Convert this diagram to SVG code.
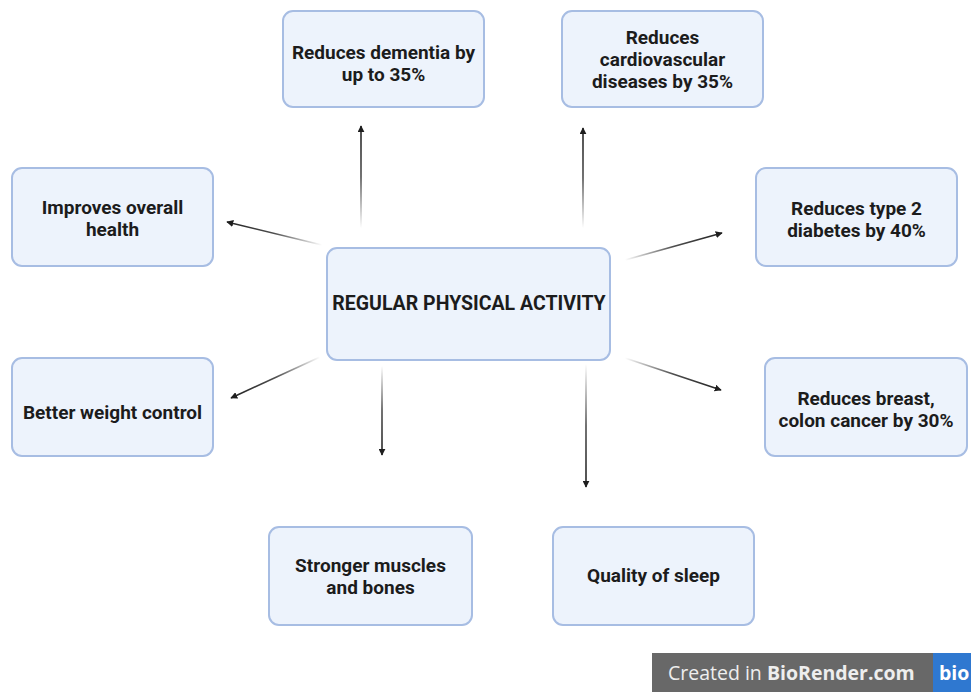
<svg xmlns="http://www.w3.org/2000/svg" width="971" height="692" viewBox="0 0 971 692">
<style>
.box{fill:#edf3fc;stroke:#a7bde3;stroke-width:2}
.t{font-family:Roboto,"Liberation Sans",sans-serif;font-weight:700;font-size:19px;fill:#1c1c1c;text-anchor:middle}
.c{stroke-width:1.6;fill:none}
</style>
<defs>
<marker id="ah" viewBox="0 0 10 10" refX="9" refY="5" markerWidth="7" markerHeight="7" markerUnits="userSpaceOnUse" orient="auto"><path d="M0,0 L10,5 L0,10 z" fill="#1e1e1e"/></marker>
<linearGradient id="g1" gradientUnits="userSpaceOnUse" x1="361" y1="228" x2="361" y2="126"><stop offset="0" stop-color="#222" stop-opacity="0"/><stop offset="0.5" stop-color="#222" stop-opacity="0.8"/><stop offset="1" stop-color="#222"/></linearGradient>
<linearGradient id="g2" gradientUnits="userSpaceOnUse" x1="583" y1="228" x2="583" y2="128"><stop offset="0" stop-color="#222" stop-opacity="0"/><stop offset="0.5" stop-color="#222" stop-opacity="0.8"/><stop offset="1" stop-color="#222"/></linearGradient>
<linearGradient id="g3" gradientUnits="userSpaceOnUse" x1="322" y1="245" x2="227" y2="222"><stop offset="0" stop-color="#222" stop-opacity="0"/><stop offset="0.5" stop-color="#222" stop-opacity="0.8"/><stop offset="1" stop-color="#222"/></linearGradient>
<linearGradient id="g4" gradientUnits="userSpaceOnUse" x1="320" y1="357" x2="231" y2="398"><stop offset="0" stop-color="#222" stop-opacity="0"/><stop offset="0.5" stop-color="#222" stop-opacity="0.8"/><stop offset="1" stop-color="#222"/></linearGradient>
<linearGradient id="g5" gradientUnits="userSpaceOnUse" x1="625" y1="260" x2="722" y2="233"><stop offset="0" stop-color="#222" stop-opacity="0"/><stop offset="0.5" stop-color="#222" stop-opacity="0.8"/><stop offset="1" stop-color="#222"/></linearGradient>
<linearGradient id="g6" gradientUnits="userSpaceOnUse" x1="625" y1="358" x2="721" y2="390"><stop offset="0" stop-color="#222" stop-opacity="0"/><stop offset="0.5" stop-color="#222" stop-opacity="0.8"/><stop offset="1" stop-color="#222"/></linearGradient>
<linearGradient id="g7" gradientUnits="userSpaceOnUse" x1="382" y1="366" x2="382" y2="455"><stop offset="0" stop-color="#222" stop-opacity="0"/><stop offset="0.5" stop-color="#222" stop-opacity="0.8"/><stop offset="1" stop-color="#222"/></linearGradient>
<linearGradient id="g8" gradientUnits="userSpaceOnUse" x1="586" y1="364" x2="586" y2="487"><stop offset="0" stop-color="#222" stop-opacity="0"/><stop offset="0.5" stop-color="#222" stop-opacity="0.8"/><stop offset="1" stop-color="#222"/></linearGradient>
</defs>

<g id="connectors">
<line class="c" x1="361" y1="228" x2="361" y2="126" stroke="url(#g1)" marker-end="url(#ah)"/>
<line class="c" x1="583" y1="228" x2="583" y2="128" stroke="url(#g2)" marker-end="url(#ah)"/>
<line class="c" x1="322" y1="245" x2="227" y2="222" stroke="url(#g3)" marker-end="url(#ah)"/>
<line class="c" x1="320" y1="357" x2="231" y2="398" stroke="url(#g4)" marker-end="url(#ah)"/>
<line class="c" x1="625" y1="260" x2="722" y2="233" stroke="url(#g5)" marker-end="url(#ah)"/>
<line class="c" x1="625" y1="358" x2="721" y2="390" stroke="url(#g6)" marker-end="url(#ah)"/>
<line class="c" x1="382" y1="366" x2="382" y2="455" stroke="url(#g7)" marker-end="url(#ah)"/>
<line class="c" x1="586" y1="364" x2="586" y2="487" stroke="url(#g8)" marker-end="url(#ah)"/>
</g>

<g id="center"><rect class="box" x="327" y="248" width="283" height="112" rx="10"/><text class="t" x="469" y="310" style="font-size:19.5px">REGULAR PHYSICAL ACTIVITY</text></g>

<g id="dementia"><rect class="box" x="283" y="11" width="201" height="96" rx="10"/><text class="t" x="383.5" y="59">Reduces dementia by</text><text class="t" x="383.5" y="81">up to 35%</text></g>

<g id="cardio"><rect class="box" x="562" y="11" width="201" height="96" rx="10"/><text class="t" x="662.5" y="44">Reduces</text><text class="t" x="662.5" y="66">cardiovascular</text><text class="t" x="662.5" y="88">diseases by 35%</text></g>

<g id="health"><rect class="box" x="12" y="168" width="201" height="98" rx="10"/><text class="t" x="112.5" y="214">Improves overall</text><text class="t" x="112.5" y="236">health</text></g>

<g id="diabetes"><rect class="box" x="756" y="168" width="201" height="98" rx="10"/><text class="t" x="856.5" y="215">Reduces type 2</text><text class="t" x="856.5" y="237">diabetes by 40%</text></g>

<g id="weight"><rect class="box" x="12" y="358" width="201" height="98" rx="10"/><text class="t" x="112.5" y="419">Better weight control</text></g>

<g id="cancer"><rect class="box" x="765" y="358" width="202" height="98" rx="10"/><text class="t" x="866" y="405">Reduces breast,</text><text class="t" x="866" y="427">colon cancer by 30%</text></g>

<g id="muscles"><rect class="box" x="269" y="527" width="203" height="98" rx="10"/><text class="t" x="370.5" y="572">Stronger muscles</text><text class="t" x="370.5" y="594">and bones</text></g>

<g id="sleep"><rect class="box" x="553" y="527" width="201" height="98" rx="10"/><text class="t" x="653.5" y="582">Quality of sleep</text></g>

<g id="badge">
<rect x="652" y="653" width="319" height="39" fill="#686868"/>
<rect x="933" y="653" width="38" height="39" fill="#2f78d0"/>
<text x="668" y="680" font-family="'Open Sans','Liberation Sans',sans-serif" font-size="19.5" fill="#eeeeee">Created in <tspan font-weight="700">BioRender.com</tspan></text>
<text x="939" y="680" font-family="'Open Sans','Liberation Sans',sans-serif" font-size="19.5" font-weight="700" fill="#ffffff">bio</text>
</g>
</svg>
